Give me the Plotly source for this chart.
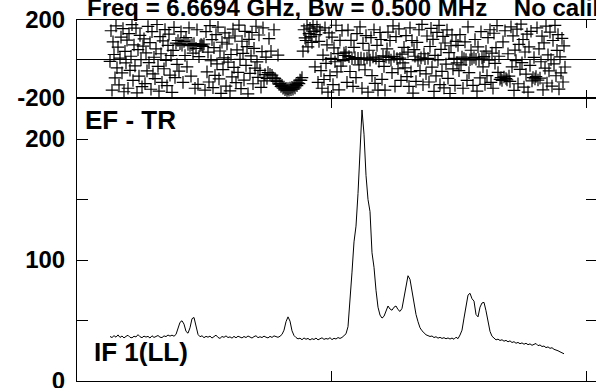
import plotly.graph_objects as go

# ---------------- data ----------------
# Amplitude spectrum (bottom panel), one value every 2 channels
spec_channels = list(range(33, 488, 2))
spec_amp = [
    # ch 33-99
    36.8, 35.9, 37.5, 36.2, 38.1, 36.0, 37.2, 35.6, 36.9, 37.8,
    36.1, 35.7, 37.0, 36.4, 38.3, 36.6, 35.8, 37.1, 36.3, 36.9,
    35.5, 37.4, 36.0, 36.8, 37.6, 36.2, 35.9, 37.3, 36.7, 38.0,
    37.1, 37.9, 37.0, 38.5,
    # double peak
    43.5, 48.5, 49.8, 47.0, 41.0, 39.5, 44.0, 51.5, 52.5, 45.0, 38.5, 36.6,
    # baseline
    37.4, 35.8, 36.9, 36.2, 37.1, 35.5, 36.4, 37.9, 36.0, 35.2,
    36.8, 36.1, 37.3, 35.9, 36.5, 35.4, 36.9, 35.7, 37.0, 36.3,
    35.6, 36.8, 35.9, 37.2, 36.1, 35.5, 36.7, 37.4, 35.8, 36.6,
    35.9, 37.1, 36.2, 35.6, 36.9, 36.0, 37.3, 36.4, 36.1, 37.0,
    38.5,
    # small peak
    42.0, 49.0, 53.0, 49.5, 41.5, 37.6,
    # baseline
    35.9, 34.8, 35.4, 34.1, 35.6, 34.5, 35.2, 33.9, 35.0, 34.3,
    35.5, 34.0, 34.9, 35.7, 34.4, 35.1, 34.6, 35.8, 34.2, 35.3,
    34.7, 35.9, 35.2, 36.0, 37.5,
    # main peak and shoulder
    39.0, 44.9, 64.0, 90.0, 115.0, 128.0, 155.0, 190.0, 224.0, 204.0,
    170.0, 150.0, 140.0, 106.0, 94.0, 75.0, 61.0, 54.5, 52.0, 53.5,
    58.0, 62.0, 59.5, 58.5, 61.0, 62.0, 59.0, 57.5, 60.0, 68.0,
    78.0, 87.0, 84.0, 74.0, 64.0, 55.0, 49.0, 44.0, 41.5, 39.5,
    38.2, 37.5,
    # baseline
    36.8, 37.2, 35.9, 36.6, 35.4, 36.1, 35.2, 35.8, 34.9, 35.6,
    34.7, 35.5, 34.5, 36.2, 35.0,
    # double peak
    38.0, 42.0, 52.0, 63.0, 71.0, 72.5, 68.0, 66.0, 55.0, 53.0,
    61.0, 64.5, 65.0, 58.0, 50.0, 41.0, 37.0,
    # tail
    35.2, 34.0, 34.6, 33.5, 34.1, 32.9, 33.6, 32.4, 33.2, 31.8,
    32.5, 31.2, 31.9, 30.8, 31.5, 30.4, 31.2, 30.0, 30.7, 29.5,
    30.3, 31.0, 29.2, 29.8, 28.5, 28.9, 27.6, 28.2, 27.0, 27.5,
    26.2, 25.8, 25.0, 24.1, 23.4, 22.5,
]

# Phase (top panel), one value per channel, degrees
phase_channels = list(range(33, 489))
phase_deg = [
    -12, 145, -160, 88, 23, -97, 170, -45, 61, -133, 5, 112, -71, 156, -168, 39, -20, 97, -150, 130,
    -58, 14, 176, -110, 72, -35, 158, -174, 48, -88, 121, -3, -142, 66, 103, -126, 31, -61, 167, -19,
    84, -155, 140, -76, 9, -101, 52, 177, -38, -165, 115, 27, -120, 93, -50, 151, -7, -137, 70, 128,
    -83, 18, -171, 44, 162, -95, 81, -28,
    95, -62, 78, 140, 71, -120, 90, 18, 110, -40, 75, 160, 69, -88, 73, 30, 79, -150, 55, 150,
    -130, 12, 68, 74, 71, 65, 77, -160, 140, -66, 35, -118, 171, -9, 99, -147, 58, -84, 125, -25,
    163, -102, 41, -176, 86, -54, 6, 134, -139, 77, -16, 108, -163, 23, -92, 153, -43, 118, -121, 47,
    -69, 174, -2, -152, 91, 29, -108, 142, -33, 63, -179, 101, -74, 16, 136, -127, 55, -47, 168, -15,
    -94, 123, -58, -145, 38, 160, -112, -80, 10, -100, -70, 105,
    -78, 40, -83, -97, 150, -100, -112, -115, 20, -129, -126, -141, -135, -150, -144, -158,
    -150, -161, -152, -160, -149, -157, -145, -155, -139, -148, -131, -137, -122, -126, -108, -110,
    -95, 40, 150, 108, 95, 170, 62, 130, 158, 115, 85, 176, 140, -40, 125, 165, -120, 90, 148, -60,
    -150, 20, -105, 160, -22, 72, -170, 134, -85, 3, 112, -131, 57, -14, 173, -66, 28, -158, 96, -37,
    146, -8, 30, 18,
    35, -120, 148, 12, -64, 96, 2, -140, 60, 7, -95, 130, 3, -30, 165, 5, -150, 80, 1, -55,
    120, 5, -170, 45, -6, 110, -85, 10, 150, -125, 4, 70, -160, -12, 136, 100, -104, 16, -38, -160,
    11, 52, 138, 8, 95, -5, -70, 170, 13, -140, 115, 2, -50, 155, 4, -110, 25, -20, 60, -45,
    120, -90, 35, -140, 160, -65, 95, -175, 48, 14, -115, 85, -9, 150, -60, 6, 178, -132, 27, 1,
    -76, 118, 3,
    -118, 64, 157, -42, 101, -166, 19, -87, 137, -5, 172, -131, 49, -63, 116, -148, 82, -26, 149, -99,
    33, -177, 68, 124, -51, 3, -135, 90, -20,
    70, -60, 125, -30, 10, -150, 2, 88, -3, -110, 165, -70, -4, 45, 0, -135, 8, 100, -1, -165,
    62, -3, -97, 140, 5, -40, 12, -130, 40, -85, 110, -6, 150, -120, 30,
    -150, 132, -22, 58, 171, -69, 14, -104, -96, -110, 88, -92, 145, -100, -107, 27, -88, -115, 165, -40,
    119, -161, 46, -8, 153, -127, 75, -53, 179, -19, 100, -144, 36, -78, 128, -170, 62, -33, 142, -112,
    -95, 8, -102, -90, 160, -108, 52, -98, -14, 117, -158, 83, -47, 169, -123, 21, -61, 138, -3, -139,
    95, -25, 172, -86, 44, 125, -154, 11, -71, 106, -118, 67, -41,
]

assert len(spec_amp) == len(spec_channels), (len(spec_amp), len(spec_channels))
assert len(phase_deg) == len(phase_channels), (len(phase_deg), len(phase_channels))

amp_ticks = [0, 50, 100, 150, 200]
amp_ticktext = ["0", "", "100", "", "200"]
phase_ticks = [-200, 200]
phase_ticktext = ["-200", "200"]
x_ticks = [0, 254, 509]

title_text = "Freq = 6.6694 GHz, Bw = 0.500 MHz\u00a0\u00a0\u00a0\u00a0No calibration"
label_top = "EF - TR"
label_bottom = "IF 1(LL)"

# ---------------- figure ----------------
FONT = "Liberation Sans, Arial, Helvetica, sans-serif"
split = 283 / 361

fig = go.Figure()
fig.add_trace(go.Scatter(
    x=phase_channels, y=phase_deg, mode="markers", xaxis="x2", yaxis="y2",
    marker=dict(symbol="cross-thin", size=9, color="black",
                line=dict(width=1.2, color="black")),
    showlegend=False, hoverinfo="skip"))
fig.add_trace(go.Scatter(
    x=spec_channels, y=spec_amp, mode="lines", xaxis="x", yaxis="y",
    line=dict(color="black", width=1), showlegend=False, hoverinfo="skip"))
fig.add_trace(go.Scatter(x=[None], y=[None], xaxis="x", yaxis="y3",
                         showlegend=False, hoverinfo="skip"))

xcommon = dict(range=[0, 519], tickvals=x_ticks, ticks="inside", tickcolor="black",
               showticklabels=False, showline=True, linecolor="black", linewidth=1,
               mirror="ticks", showgrid=False, zeroline=False, automargin=False)

fig.update_layout(
    width=596, height=388,
    margin=dict(l=77, r=0, t=20, b=7, pad=0, autoexpand=False),
    paper_bgcolor="white", plot_bgcolor="white",
    font=dict(family=FONT, size=24, color="black", weight="bold"),
    xaxis=dict(domain=[0, 1], anchor="y", ticklen=10, **xcommon),
    xaxis2=dict(domain=[0, 1], anchor="y2", matches="x", ticklen=8, **xcommon),
    yaxis=dict(domain=[0, split], anchor="x", range=[0, 233.9],
               tickvals=amp_ticks, ticktext=amp_ticktext, ticks="inside", ticklen=11,
               tickcolor="black", showline=True, linecolor="black", linewidth=1,
               showgrid=False, zeroline=False, ticklabelstandoff=6, automargin=False,
               ticklabeloverflow="allow"),
    yaxis3=dict(overlaying="y", side="right", anchor="x", range=[0, 233.9],
                tickvals=amp_ticks, ticks="inside", ticklen=10, tickcolor="black",
                showticklabels=False, showline=False, showgrid=False, zeroline=False,
                automargin=False),
    yaxis2=dict(domain=[split, 1], anchor="x2", range=[-200, 200],
                tickvals=phase_ticks, ticktext=phase_ticktext, ticks="",
                showline=True, linecolor="black", linewidth=1,
                showgrid=False, zeroline=True, zerolinecolor="black", zerolinewidth=1,
                ticklabelstandoff=6, automargin=False, ticklabeloverflow="allow"),
    annotations=[
        dict(text=title_text, xref="paper", yref="paper", x=8 / 519, y=1.035,
             xanchor="left", yanchor="middle", showarrow=False,
             font=dict(family=FONT, size=24, weight="bold", color="black")),
        dict(text=label_top, xref="paper", yref="paper", x=6 / 519, y=0.724,
             xanchor="left", yanchor="middle", showarrow=False,
             font=dict(family=FONT, size=26, weight="bold", color="black")),
        dict(text=label_bottom, xref="paper", yref="paper", x=15 / 519, y=0.080,
             xanchor="left", yanchor="middle", showarrow=False,
             font=dict(family=FONT, size=26, weight="bold", color="black")),
    ],
)

fig.write_html("out.html",
               config={"displayModeBar": False},
               post_script="document.body.style.margin='0px';"
                           "document.body.style.overflow='hidden';")
